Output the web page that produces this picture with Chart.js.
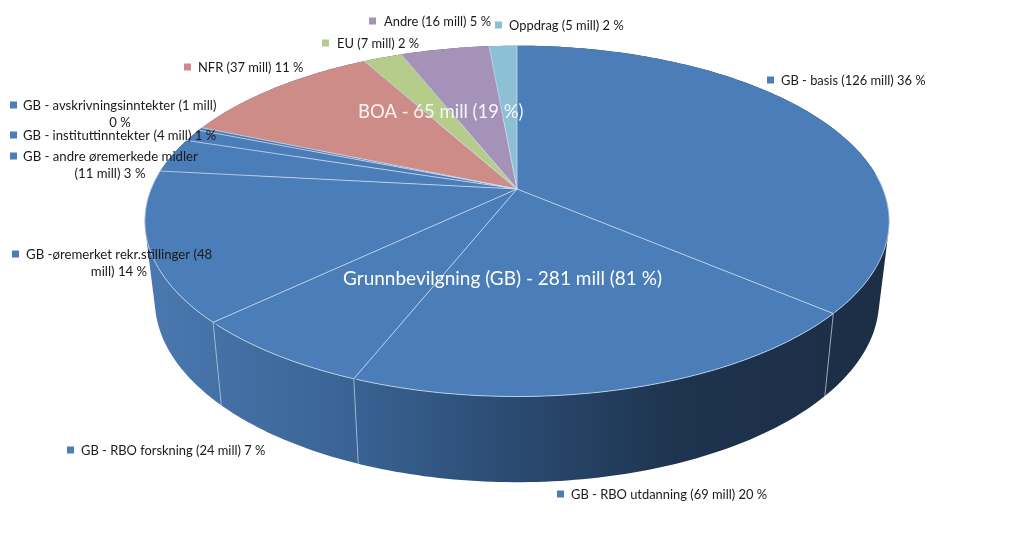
<!DOCTYPE html>
<html lang="no">
<head>
<meta charset="utf-8">
<title>Inntekter</title>
<script src="https://cdn.jsdelivr.net/npm/chart.js@4"></script>
<style>
    html, body { margin: 0; padding: 0; background: #fff; }
    #wrap { width: 1024px; height: 534px; }
</style>
</head>
<body>
<div id="wrap"><canvas id="pie" width="1024" height="534"></canvas></div>
<script>
// --- data, clockwise from 12 o'clock ---
const categories = [
    'GB - basis', 'GB - RBO utdanning', 'GB - RBO forskning', 'GB -øremerket rekr.stillinger',
    'GB - andre øremerkede midler', 'GB - instituttinntekter', 'GB - avskrivningsinntekter',
    'NFR', 'EU', 'Andre', 'Oppdrag'
];
const values = [126, 69, 24, 48, 11, 4, 1, 37, 7, 16, 5];
const percents = [36, 20, 7, 14, 3, 1, 0, 11, 2, 5, 2];
const sliceColors = [
    '#4b7db9', '#4b7db9', '#4b7db9', '#4b7db9', '#4b7db9', '#4b7db9', '#4b7db9',
    '#cd8c88', '#b5cc8b', '#a592b9', '#8ec0d5'
];
const groupTitles = ['Grunnbevilgning (GB) - 281 mill (81 %)', 'BOA - 65 mill (19 %)'];

// where each label goes: marker left, marker middle y, text left, font size,
// and where the text wraps + second line centre if it does
const labelPlaces = [
    { mx: 767, my: 80, tx: 781, size: 12.9, wrapAt: 0 },
    { mx: 557, my: 494, tx: 571, size: 12.9, wrapAt: 0 },
    { mx: 67, my: 450, tx: 81, size: 12.9, wrapAt: 0 },
    { mx: 12, my: 254, tx: 26, size: 13.2, wrapAt: 33, cx: 119, dy: 17 },
    { mx: 10, my: 156, tx: 23, size: 13.2, wrapAt: 28, cx: 110, dy: 17 },
    { mx: 10, my: 135, tx: 23, size: 13.1, wrapAt: 0 },
    { mx: 10, my: 105, tx: 23, size: 13.1, wrapAt: 35, cx: 120, dy: 17 },
    { mx: 184, my: 67, tx: 198, size: 12.9, wrapAt: 0 },
    { mx: 322, my: 43, tx: 337, size: 12.9, wrapAt: 0 },
    { mx: 369, my: 21, tx: 384, size: 12.9, wrapAt: 0 },
    { mx: 495, my: 25, tx: 509, size: 12.9, wrapAt: 0 }
];

// 3D look: the flat pie is pushed through a perspective
const TILT = 0.183;
const SCALE_X = 1.936;
const SCALE_Y = 0.897;
const STEP = Math.PI / 180;

function topPoint(arc, angle) {
    const th = angle + Math.PI / 2;
    const u = Math.sin(th), v = -Math.cos(th);
    const d = 1 - TILT * v;
    return {
        x: arc.x + SCALE_X * arc.outerRadius * u / d,
        y: arc.y + SCALE_Y * arc.outerRadius * v / d
    };
}

function bottomPoint(arc, angle) {
    const p = topPoint(arc, angle);
    return {
        x: arc.x + (p.x - arc.x) * 0.973,
        y: p.y + 78 + (p.y - arc.y) * 0.037
    };
}

function wallGradient(ctx) {
    const g = ctx.createLinearGradient(145, 0, 889, 0);
    g.addColorStop(0, '#4a78b0');
    g.addColorStop(0.27, '#3a6495');
    g.addColorStop(0.5, '#2a4a70');
    g.addColorStop(0.72, '#1e334e');
    g.addColorStop(1, '#1c2e45');
    return g;
}

// adds a quad to the path, always wound the same way so overlaps don't cancel
function addQuad(ctx, pts) {
    let area = 0;
    pts.forEach((p, i) => {
        const n = pts[(i + 1) % pts.length];
        area += p.x * n.y - n.x * p.y;
    });
    const list = area < 0 ? pts.slice().reverse() : pts;
    ctx.moveTo(list[0].x, list[0].y);
    list.slice(1).forEach(p => ctx.lineTo(p.x, p.y));
    ctx.closePath();
}

const pie3d = {
    id: 'pie3d',
    beforeDatasetDraw(chart) {
        const ctx = chart.ctx;
        const arcs = chart.getDatasetMeta(0).data;
        ctx.save();

        // side wall, all strips in one path so there are no seams
        ctx.fillStyle = wallGradient(ctx);
        ctx.beginPath();
        arcs.forEach(arc => {
            for (let a = arc.startAngle; a < arc.endAngle; a += STEP) {
                const b = Math.min(a + STEP, arc.endAngle);
                addQuad(ctx, [topPoint(arc, a), topPoint(arc, b), bottomPoint(arc, b), bottomPoint(arc, a)]);
            }
        });
        ctx.fill();

        // pale lines on the wall between slices
        ctx.strokeStyle = 'rgba(190,208,230,0.75)';
        ctx.lineWidth = 1;
        arcs.forEach(arc => {
            const p = topPoint(arc, arc.startAngle), q = bottomPoint(arc, arc.startAngle);
            ctx.beginPath();
            ctx.moveTo(p.x, p.y);
            ctx.lineTo(q.x, q.y);
            ctx.stroke();
        });

        // top face
        arcs.forEach(arc => {
            ctx.beginPath();
            ctx.moveTo(arc.x, arc.y);
            for (let a = arc.startAngle; a < arc.endAngle; a += STEP) {
                const p = topPoint(arc, a);
                ctx.lineTo(p.x, p.y);
            }
            const end = topPoint(arc, arc.endAngle);
            ctx.lineTo(end.x, end.y);
            ctx.closePath();
            ctx.fillStyle = arc.options.backgroundColor;
            ctx.fill();
        });
        ctx.strokeStyle = 'rgba(205,220,238,0.8)';
        ctx.lineWidth = 1;
        arcs.forEach(arc => {
            const s = topPoint(arc, arc.startAngle);
            ctx.beginPath();
            ctx.moveTo(arc.x, arc.y);
            ctx.lineTo(s.x, s.y);
            ctx.stroke();
            // rim only on the front side
            ctx.beginPath();
            for (let a = arc.startAngle; a <= arc.endAngle; a += STEP) {
                const p = topPoint(arc, a);
                const th = a + Math.PI / 2;
                if (-Math.cos(th) > -0.1) ctx.lineTo(p.x, p.y);
            }
            ctx.stroke();
        });
        ctx.restore();
        return false; // the library's flat arcs are replaced by the drawing above
    },
    afterDraw(chart) {
        const ctx = chart.ctx;
        ctx.save();
        ctx.textBaseline = 'middle';

        labelPlaces.forEach((place, i) => {
            const text = categories[i] + ' (' + values[i] + ' mill) ' + percents[i] + ' %';
            ctx.font = place.size + 'px Lato';
            ctx.fillStyle = sliceColors[i];
            ctx.fillRect(place.mx, place.my - 3.5, 7, 7);
            ctx.fillStyle = '#1a1a1a';
            ctx.textAlign = 'left';
            if (place.wrapAt) {
                ctx.fillText(text.slice(0, place.wrapAt), place.tx, place.my + 1);
                ctx.textAlign = 'center';
                ctx.fillText(text.slice(place.wrapAt).trim(), place.cx, place.my + 1 + place.dy);
            } else {
                ctx.fillText(text, place.tx, place.my + 1);
            }
        });

        ctx.fillStyle = '#ffffff';
        ctx.textAlign = 'left';
        ctx.font = '19px Lato';
        ctx.fillText(groupTitles[0], 343, 279);
        ctx.font = '18.5px Lato';
        ctx.fillStyle = 'rgba(255,255,255,0.9)';
        ctx.fillText(groupTitles[1], 358, 112);
        ctx.restore();
    }
};

new Chart(document.getElementById('pie'), {
    type: 'pie',
    data: {
        labels: categories,
        datasets: [{
            data: values,
            backgroundColor: sliceColors,
            borderWidth: 0
        }]
    },
    options: {
        responsive: false,
        animation: false,
        layout: { padding: { left: 10, bottom: 156 } },
        plugins: {
            legend: { display: false },
            tooltip: { enabled: false }
        }
    },
    plugins: [pie3d]
});
</script>
</body>
</html>
